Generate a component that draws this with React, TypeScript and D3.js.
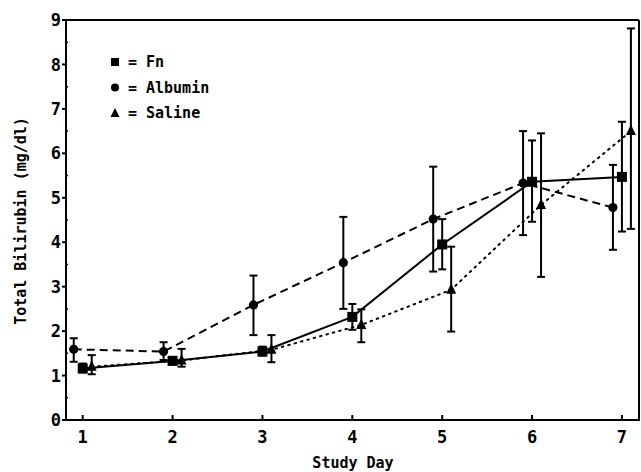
import React from "react";
import * as d3 from "d3";

const days = [1, 2, 3, 4, 5, 6, 7];
const fnMean = [1.16, 1.33, 1.54, 2.32, 3.95, 5.36, 5.47];
const fnLow = [1.07, 1.25, 1.45, 2.03, 3.39, 4.46, 4.24];
const fnHigh = [1.27, 1.42, 1.65, 2.61, 4.52, 6.29, 6.71];
const albMean = [1.59, 1.54, 2.59, 3.54, 4.52, 5.33, 4.78];
const albLow = [1.31, 1.35, 1.91, 2.5, 3.34, 4.16, 3.83];
const albHigh = [1.84, 1.75, 3.25, 4.57, 5.7, 6.5, 5.74];
const salMean = [1.2, 1.34, 1.58, 2.14, 2.93, 4.84, 6.5];
const salLow = [1.03, 1.2, 1.3, 1.75, 1.99, 3.22, 4.3];
const salHigh = [1.46, 1.6, 1.91, 2.49, 3.9, 6.45, 8.81];
const yTicks = [0, 1, 2, 3, 4, 5, 6, 7, 8, 9];
const yMinor = [0.5, 1.5, 2.5, 3.5, 4.5, 5.5, 6.5, 7.5, 8.5];
const legendLabels = ["Fn", "Albumin", "Saline"];

const W = 641;
const H = 472;
const left = 66;
const right = 639;
const top = 20;
const bottom = 420;
const FONT = "'DejaVu Sans Mono', monospace";

type Series = {
  name: string;
  mean: number[];
  low: number[];
  high: number[];
  offset: number;
  dash: string;
  shape: "square" | "circle" | "triangle";
};

const series: Series[] = [
  { name: "Albumin", mean: albMean, low: albLow, high: albHigh, offset: -0.1, dash: "8,5", shape: "circle" },
  { name: "Saline", mean: salMean, low: salLow, high: salHigh, offset: 0.1, dash: "1.6,5", shape: "triangle" },
  { name: "Fn", mean: fnMean, low: fnLow, high: fnHigh, offset: 0, dash: "", shape: "square" },
];

function Marker({ shape, x, y }: { shape: string; x: number; y: number }) {
  if (shape === "square") return <rect x={x - 5} y={y - 5} width={10} height={10} fill="#000" />;
  if (shape === "circle") return <circle cx={x} cy={y} r={4.6} fill="#000" />;
  const p = d3.path();
  p.moveTo(x, y - 6.5);
  p.lineTo(x + 5, y + 4);
  p.lineTo(x - 5, y + 4);
  p.closePath();
  return <path d={p.toString()} fill="#000" />;
}

export default function App() {
  const x = d3.scaleLinear().domain([0.814, 7.19]).range([left, right]);
  const y = d3.scaleLinear().domain([0, 9]).range([bottom, top]);
  const line = d3
    .line<[number, number]>()
    .x((d) => x(d[0]))
    .y((d) => y(d[1]));

  return (
    <svg width={W} height={H} style={{ position: "fixed", left: 0, top: 0, background: "#fff" }}>
      <rect x={0} y={0} width={W} height={H} fill="#fff" />
      {/* frame */}
      <line x1={left} y1={top} x2={right} y2={top} stroke="#000" strokeWidth={2} />
      <line x1={right} y1={top} x2={right} y2={bottom} stroke="#000" strokeWidth={2} />
      <line x1={left} y1={top - 1} x2={left} y2={bottom + 1} stroke="#000" strokeWidth={2} />
      <line x1={left - 1} y1={bottom} x2={right + 1} y2={bottom} stroke="#000" strokeWidth={2} />
      {/* y ticks */}
      {yTicks.map((t) => (
        <g key={"y" + t}>
          <line x1={left - 4} x2={left} y1={y(t)} y2={y(t)} stroke="#000" strokeWidth={2} />
          <text
            x={left - 5}
            y={y(t)}
            dy="0.36em"
            textAnchor="end"
            fontFamily={FONT}
            fontWeight="bold"
            fontSize={17}
          >
            {t}
          </text>
        </g>
      ))}
      {yMinor.map((t) => (
        <line key={"ym" + t} x1={left} x2={left + 2} y1={y(t)} y2={y(t)} stroke="#000" strokeWidth={1.5} />
      ))}
      {/* x ticks */}
      {days.map((d) => (
        <g key={"x" + d}>
          <line x1={x(d)} x2={x(d)} y1={bottom} y2={bottom - 5} stroke="#000" strokeWidth={2} />
          <text
            x={x(d)}
            y={443}
            textAnchor="middle"
            fontFamily={FONT}
            fontWeight="bold"
            fontSize={17}
          >
            {d}
          </text>
        </g>
      ))}
      <text x={353} y={468} textAnchor="middle" fontFamily={FONT} fontWeight="bold" fontSize={15}>
        Study Day
      </text>
      <text
        transform={`translate(26,221) rotate(-90)`}
        textAnchor="middle"
        fontFamily={FONT}
        fontWeight="bold"
        fontSize={15}
      >
        Total Bilirubin (mg/dl)
      </text>
      {/* series */}
      {series.map((s) => {
        const pts: [number, number][] = days.map((d, i) => [d + s.offset, s.mean[i]]);
        return (
          <g key={s.name}>
            <path
              d={line(pts) || ""}
              fill="none"
              stroke="#000"
              strokeWidth={2}
              strokeDasharray={s.dash || undefined}
              strokeLinecap={s.shape === "triangle" ? "round" : "butt"}
            />
            {days.map((d, i) => {
              const cx = x(d + s.offset);
              return (
                <g key={i}>
                  <line x1={cx} x2={cx} y1={y(s.low[i])} y2={y(s.high[i])} stroke="#000" strokeWidth={2} />
                  <line x1={cx - 4} x2={cx + 4} y1={y(s.low[i])} y2={y(s.low[i])} stroke="#000" strokeWidth={2} />
                  <line x1={cx - 4} x2={cx + 4} y1={y(s.high[i])} y2={y(s.high[i])} stroke="#000" strokeWidth={2} />
                  <Marker shape={s.shape} x={cx} y={y(s.mean[i])} />
                </g>
              );
            })}
          </g>
        );
      })}
      {/* legend */}
      {legendLabels.map((lab, i) => {
        const ly = 62 + i * 25.5;
        const shape = i === 0 ? "square" : i === 1 ? "circle" : "triangle";
        return (
          <g key={lab}>
            {shape === "square" ? (
              <rect x={111} y={ly - 4} width={8} height={8} fill="#000" />
            ) : shape === "circle" ? (
              <circle cx={115} cy={ly} r={4} fill="#000" />
            ) : (
              <path d={`M115,${ly - 5}L119.5,${ly + 4}L110.5,${ly + 4}Z`} fill="#000" />
            )}
            <text x={128} y={ly} dy="0.36em" fontFamily={FONT} fontWeight="bold" fontSize={15}>
              =
            </text>
            <text x={146} y={ly} dy="0.36em" fontFamily={FONT} fontWeight="bold" fontSize={15}>
              {lab}
            </text>
          </g>
        );
      })}
    </svg>
  );
}
